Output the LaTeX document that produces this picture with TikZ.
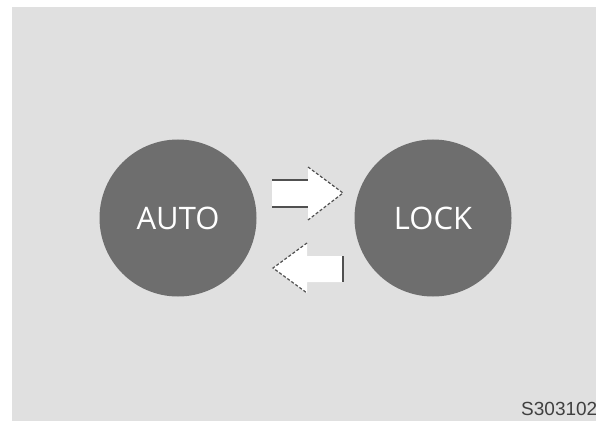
\documentclass[tikz,border=0pt]{standalone}
\usepackage{fontspec}
\newfontfamily\btnfont{Open Sans}
\newfontfamily\tagfont{Liberation Sans}
\definecolor{panegray}{HTML}{E0E0E0}
\definecolor{btngray}{HTML}{6E6E6E}
\definecolor{rimgray}{HTML}{505050}

\begin{document}
\begin{tikzpicture}[
  x=1pt, y=-1pt,
  pane/.style={fill=panegray, draw=none},
  btn/.style={circle, fill=btngray, minimum size=157pt, inner sep=0pt,
              text=white, font=\btnfont\fontsize{31}{31}\selectfont},
  arrbody/.style={fill=white, draw=none},
  rim/.style={draw=rimgray, line width=1.4pt},
  headline/.style={draw=rimgray, line width=1.2pt, dash pattern=on 3pt off 2pt},
  tag/.style={font=\tagfont\fontsize{19}{19}\selectfont, text=black!75,
              anchor=base west, inner sep=0pt}
]
\useasboundingbox (0,0) rectangle (596,422);
\fill[pane] (12,7) rectangle (596,421);

\node[btn] (auto) at (178,218) {AUTO};
\node[btn] (lock) at (433,218) {LOCK};

% AUTO -> LOCK
\fill[arrbody] (272,180) -- (308,180) -- (308,167) -- (343,193)
  -- (308,220) -- (308,207) -- (272,207) -- cycle;
\draw[rim] (272,180) -- (308,180) (272,207) -- (308,207);
\draw[headline] (308,167) -- (343,193) -- (308,220);

% LOCK -> AUTO
\fill[arrbody] (343,256) -- (307,256) -- (307,243) -- (273,268)
  -- (307,293) -- (307,282) -- (343,282) -- cycle;
\draw[rim] (343,256) -- (343,282);
\draw[headline] (307,243) -- (273,268) -- (307,293);

\node[tag] (code) at (521,415) {S303102};
\end{tikzpicture}
\end{document}
